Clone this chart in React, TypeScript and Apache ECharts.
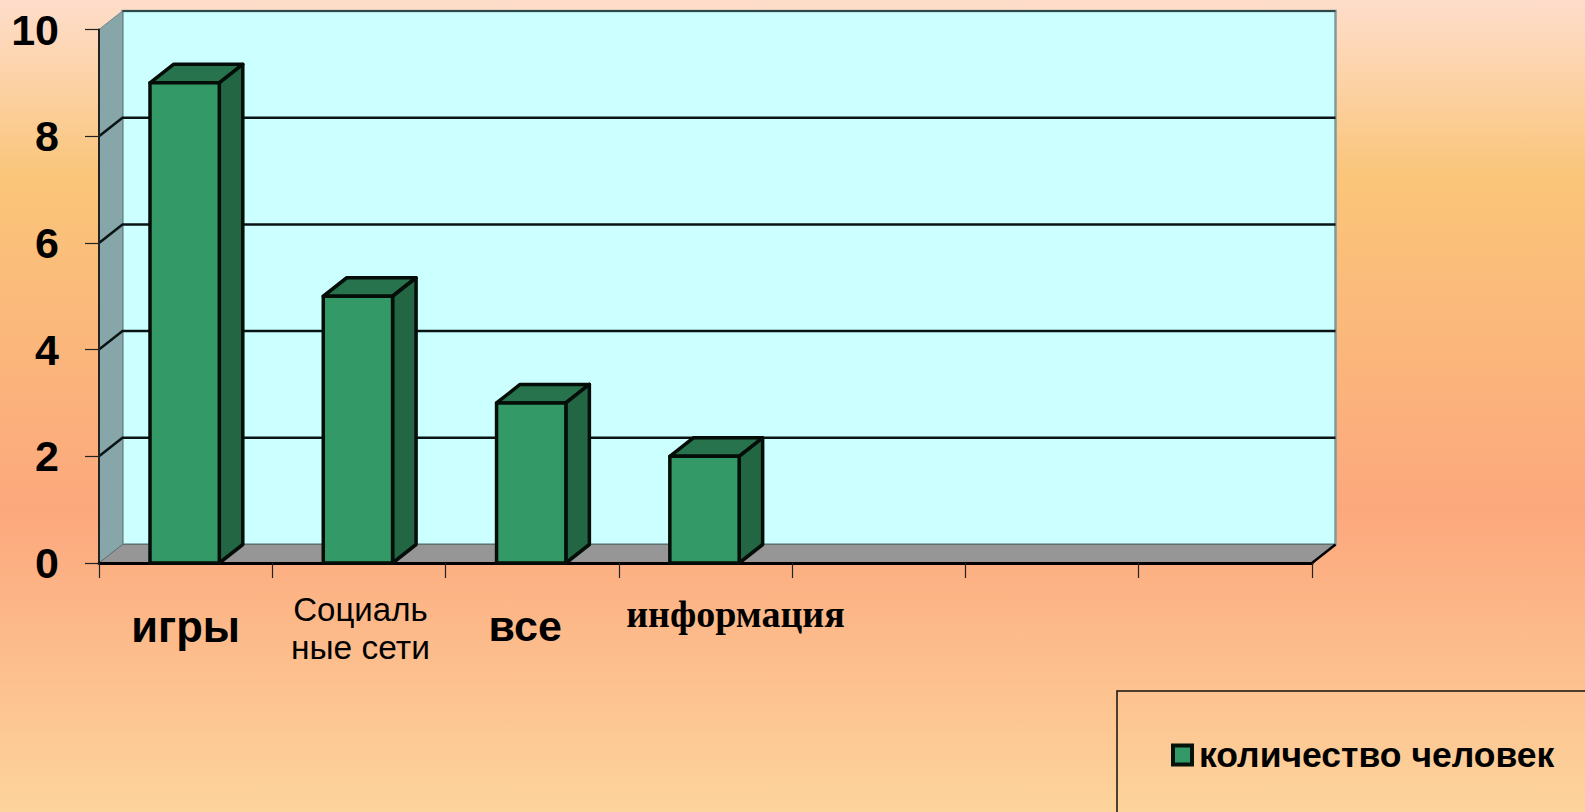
import React, { useEffect, useRef } from "react";
import * as echarts from "echarts";

const categories = ["игры", "Социаль\nные сети", "все", "информация", "", "", ""];
const seriesName = "количество человек";
const values = [9, 5, 3, 2];
const gridTicks = [2, 4, 6, 8];
const DX = 23.5;
const DY = -18.5;

const labelFormatter = (v: string) => {
  if (v === "игры") return "{a|игры}";
  if (v === "все") return "{v|все}";
  if (v === "информация") return "{i|информация}";
  if (v.startsWith("Соц")) {
    const [first, second] = v.split("\n");
    return `{s1|${first}}\n{s2|${second}}`;
  }
  return "";
};

export default function App() {
  const ref = useRef<HTMLDivElement>(null);
  useEffect(() => {
    const chart = echarts.init(ref.current!, undefined, { renderer: "svg" });
    const font = "'Liberation Sans', Arial, sans-serif";
    chart.setOption({
      animation: false,
      backgroundColor: new echarts.graphic.LinearGradient(0, 0, 0, 1, [
        { offset: 0, color: "#FEDDCB" },
        { offset: 0.22, color: "#FAC579" },
        { offset: 0.63, color: "#FCA87D" },
        { offset: 1, color: "#FDD49C" },
      ]),
      grid: { left: 99, top: 29.5, width: 1213, height: 533.5 },
      legend: {
        data: [seriesName],
        left: 1117,
        top: 691,
        orient: "vertical",
        padding: [46, 60, 60, 54],
        borderColor: "#111",
        borderWidth: 1.5,
        itemWidth: 19,
        itemHeight: 19,
        itemGap: 0,
        icon: "rect",
        itemStyle: { color: "#339966", borderColor: "#06120B", borderWidth: 4 },
        textStyle: { color: "#000", fontFamily: font, fontWeight: "bold", fontSize: 35.5, padding: [0, 0, 0, 2] },
      },
      xAxis: {
        type: "category",
        data: categories,
        z: 3,
        axisLine: { show: true, lineStyle: { color: "#000", width: 3 } },
        axisTick: { show: true, length: 15, lineStyle: { color: "#222", width: 1.2 } },
        axisLabel: {
          interval: 0,
          margin: 20,
          formatter: labelFormatter,
          rich: {
            a: { fontFamily: font, fontWeight: "bold", fontSize: 43.5, color: "#000", lineHeight: 50, padding: [37, 0, 0, 0] },
            v: { fontFamily: font, fontWeight: "bold", fontSize: 43, color: "#000", lineHeight: 50, padding: [36, 14, 0, 0] },
            s1: { fontFamily: font, fontSize: 33, color: "#000", lineHeight: 38, padding: [14, 0, 0, 3] },
            s2: { fontFamily: font, fontSize: 33.5, color: "#000", lineHeight: 48, padding: [5, 0, 0, 3] },
            i: { fontFamily: "'Liberation Serif', serif", fontWeight: "bold", fontSize: 38, color: "#000", lineHeight: 44, padding: [18, 0, 0, 60] },
          },
        },
        splitLine: { show: false },
      },
      yAxis: {
        type: "value",
        min: 0,
        max: 10,
        interval: 2,
        z: 3,
        axisLine: { show: true, lineStyle: { color: "#222", width: 2 } },
        axisTick: { show: true, length: 14, lineStyle: { color: "#222", width: 1.2 } },
        axisLabel: { margin: 40, color: "#000", fontFamily: font, fontWeight: "bold", fontSize: 43 },
        splitLine: { show: false },
      },
      series: [
        {
          type: "custom",
          name: "walls",
          z: 1,
          silent: true,
          data: [[0, 0]],
          encode: { x: 0, y: 1 },
          renderItem: (params: any) => {
            const c = params.coordSys;
            const l = c.x, r = c.x + c.width, t = c.y, b = c.y + c.height;
            return {
              type: "group",
              children: [
                {
                  type: "rect",
                  shape: { x: l + DX, y: t + DY, width: c.width, height: c.height },
                  style: { fill: "#CCFFFF", stroke: "#7F9A9C", lineWidth: 2.5 },
                },
                {
                  type: "polygon",
                  shape: { points: [[l, t], [l + DX, t + DY], [l + DX, b + DY], [l, b]] },
                  style: { fill: "#86A6A9", stroke: "#6F8A8C", lineWidth: 1 },
                },
                {
                  type: "polygon",
                  shape: { points: [[l, b], [r, b], [r + DX, b + DY], [l + DX, b + DY]] },
                  style: { fill: "#969696", stroke: "#5F7070", lineWidth: 1 },
                },
                {
                  type: "line",
                  shape: { x1: l + DX, y1: t + DY, x2: r + DX, y2: t + DY },
                  style: { stroke: "#2E4A48", lineWidth: 2 },
                },
                {
                  type: "line",
                  shape: { x1: r, y1: b, x2: r + DX, y2: b + DY },
                  style: { stroke: "#000", lineWidth: 2.5 },
                },
              ],
            };
          },
        },
        {
          type: "custom",
          name: "gridlines",
          z: 2,
          silent: true,
          data: gridTicks.map((v) => [0, v]),
          encode: { x: 0, y: 1 },
          renderItem: (params: any, api: any) => {
            const c = params.coordSys;
            const y = api.coord([0, api.value(1)])[1];
            return {
              type: "polyline",
              shape: { points: [[c.x, y], [c.x + DX, y + DY], [c.x + c.width + DX, y + DY]] },
              style: { fill: "none", stroke: "#0A1414", lineWidth: 2.5 },
            };
          },
        },
        {
          type: "custom",
          name: seriesName,
          z: 4,
          data: values.map((v, i) => [i, v]),
          encode: { x: 0, y: 1 },
          itemStyle: { color: "#339966" },
          renderItem: (_params: any, api: any) => {
            const band = api.size([1, 0])[0];
            const w = band * 0.4;
            const [cx, top] = api.coord([api.value(0), api.value(1)]);
            const [, bottom] = api.coord([api.value(0), 0]);
            const x0 = cx - w / 2 - 1;
            const x1 = x0 + w;
            const stroke = { stroke: "#050D08", lineWidth: 3.5, lineJoin: "round" };
            return {
              type: "group",
              children: [
                {
                  type: "polygon",
                  shape: { points: [[x0, top], [x0 + DX, top + DY], [x1 + DX, top + DY], [x1, top]] },
                  style: { fill: "#26734D", ...stroke },
                },
                {
                  type: "polygon",
                  shape: { points: [[x1, top], [x1 + DX, top + DY], [x1 + DX, bottom + DY], [x1, bottom]] },
                  style: { fill: "#226644", ...stroke },
                },
                {
                  type: "rect",
                  shape: { x: x0, y: top, width: w, height: bottom - top },
                  style: { fill: "#339966", ...stroke },
                },
              ],
            };
          },
        },
      ],
    });
    return () => chart.dispose();
  }, []);
  return <div ref={ref} style={{ position: "fixed", left: 0, top: 0, width: 1585, height: 812 }} />;
}
